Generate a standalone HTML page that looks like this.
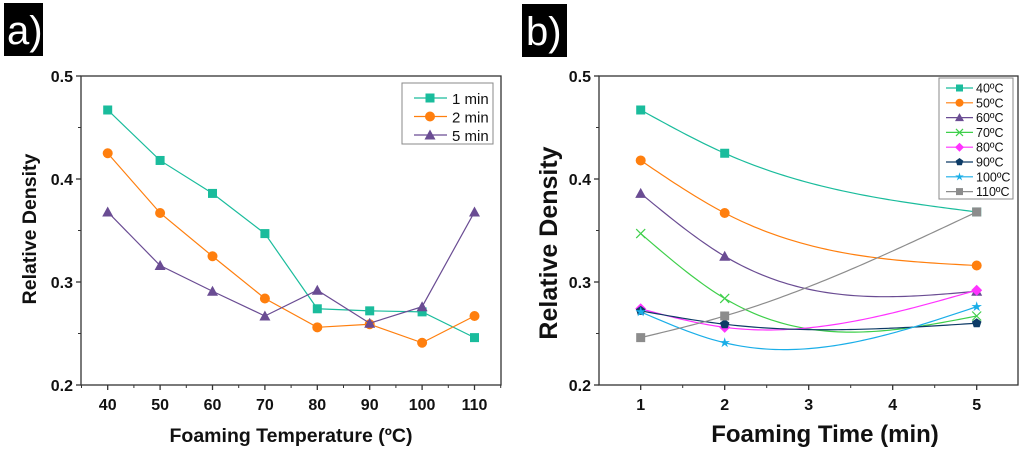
<!DOCTYPE html>
<html><head><meta charset="utf-8"><style>
body{margin:0;background:#fff;width:1024px;height:449px;overflow:hidden}
svg{display:block;font-family:"Liberation Sans",sans-serif}
</style></head><body>
<svg id="s" width="1024" height="449" viewBox="0 0 1024 449">
<g><rect x="4" y="3" width="39" height="53" fill="#000"/><text x="7" y="44" font-size="40" fill="#fff">a)</text></g>
<g><rect x="522" y="4" width="45" height="53" fill="#000"/><text x="526" y="45" font-size="40" fill="#fff">b)</text></g>
</svg>
<script>
const tempCats=[40,50,60,70,80,90,100,110];
const min1=[0.467,0.418,0.386,0.347,0.274,0.272,0.271,0.246];
const min2=[0.425,0.367,0.325,0.284,0.256,0.259,0.241,0.267];
const min5=[0.368,0.316,0.291,0.267,0.292,0.260,0.276,0.368];
const timeCats=[1,2,5];
const bNames=["40ºC","50ºC","60ºC","70ºC","80ºC","90ºC","100ºC","110ºC"];
const b40=[0.467,0.425,0.368];
const b50=[0.418,0.367,0.316];
const b60=[0.386,0.325,0.291];
const b70=[0.347,0.284,0.267];
const b80=[0.274,0.256,0.292];
const b90=[0.272,0.259,0.260];
const b100=[0.271,0.241,0.276];
const b110=[0.246,0.267,0.368];
const yTicks=[0.2,0.3,0.4,0.5];
const aXTicks=[40,50,60,70,80,90,100,110];
const bXTicks=[1,2,3,4,5];

const S=document.getElementById('s');const NS='http://www.w3.org/2000/svg';
function mk(t,a,p){const e=document.createElementNS(NS,t);for(const k in a)e.setAttribute(k,a[k]);(p||S).appendChild(e);return e;}
const yS=v=>385-(v-0.2)/0.3*309;
const axA=v=>107.7+(v-40)*5.24;
const axB=v=>640.7+(v-1)*84;

function marker(g,type,x,y,c,sz){
  sz=sz||4.5;let e;
  if(type==='sq')e=mk('rect',{x:x-sz,y:y-sz,width:2*sz,height:2*sz,fill:c},g);
  else if(type==='ci')e=mk('circle',{cx:x,cy:y,r:sz+0.5,fill:c},g);
  else if(type==='tr')e=mk('polygon',{points:`${x},${y-sz-1} ${x+sz+1},${y+sz} ${x-sz-1},${y+sz}`,fill:c},g);
  else if(type==='x')e=mk('path',{d:`M${x-sz} ${y-sz}L${x+sz} ${y+sz}M${x-sz} ${y+sz}L${x+sz} ${y-sz}`,stroke:c,'stroke-width':1.2,fill:'none'},g);
  else if(type==='di')e=mk('polygon',{points:`${x},${y-sz-1} ${x+sz+1},${y} ${x},${y+sz+1} ${x-sz-1},${y}`,fill:c},g);
  else if(type==='pe'){let p=[];for(let i=0;i<5;i++){const a=-Math.PI/2+i*2*Math.PI/5;p.push((x+(sz+0.5)*Math.cos(a))+','+(y+(sz+0.5)*Math.sin(a)));}e=mk('polygon',{points:p.join(' '),fill:c},g);}
  else if(type==='st'){let p=[];for(let i=0;i<10;i++){const a=-Math.PI/2+i*Math.PI/5;const r=i%2?sz*0.45:sz+1;p.push((x+r*Math.cos(a))+','+(y+r*Math.sin(a)));}e=mk('polygon',{points:p.join(' '),fill:c},g);}
  
  
}

function axes(x0,x1,xt,xs,minor,title,ttlSize,ttlX,ytX,ytSize,ytTitleX){
  const g=mk('g',{});
  
  
  mk('rect',{x:x0,y:76,width:x1-x0,height:309,fill:'none',stroke:'#333','stroke-width':1.3},g);
  yTicks.forEach(v=>{const y=yS(v);mk('line',{x1:x0-5,x2:x0,y1:y,y2:y,stroke:'#333','stroke-width':1.3},g);
    const t=mk('text',{x:x0-8,y:y+6,'text-anchor':'end','font-size':16,'font-weight':'bold',fill:'#111'},g);t.textContent=v.toFixed(1);
    });
  for(let v=0.25;v<0.5;v+=0.1){const y=yS(v);mk('line',{x1:x0-3,x2:x0,y1:y,y2:y,stroke:'#333'},g);}
  xt.forEach(v=>{const x=xs(v);mk('line',{x1:x,x2:x,y1:385,y2:390,stroke:'#333','stroke-width':1.3},g);
    const t=mk('text',{x:x,y:410,'text-anchor':'middle','font-size':16,'font-weight':'bold',fill:'#111'},g);t.textContent=v;
    });
  minor.forEach(v=>{const x=xs(v);mk('line',{x1:x,x2:x,y1:385,y2:388,stroke:'#333'},g);});
  const xt2=mk('text',{x:ttlX,y:442,'text-anchor':'middle','font-size':ttlSize,'font-weight':'bold',fill:'#111'},g);xt2.textContent=title;
  
  const yt=mk('text',{x:0,y:0,transform:`translate(${ytTitleX},${ytX}) rotate(-90)`,'text-anchor':'middle','font-size':ytSize,'font-weight':'bold',fill:'#111'},g);yt.textContent='Relative Density';
  
}
axes(81,501,aXTicks,axA,[35,45,55,65,75,85,95,105,115].filter(v=>axA(v)>81&&axA(v)<501),'Foaming Temperature (ºC)',19.5,291,229,19.5,36);
axes(599,1018,bXTicks,axB,[1.5,2.5,3.5,4.5,0.5,5.5].filter(v=>axB(v)>599&&axB(v)<1018),'Foaming Time (min)',24,825,243,25,557);

// panel a
const aSeries=[[min1,'#1abc9c','sq','1 min'],[min2,'#ff7f0e','ci','2 min'],[min5,'#6a4c93','tr','5 min']];
aSeries.forEach(([d,c,m,n])=>{
  const g=mk('g',{});
  
  
  mk('polyline',{points:d.map((v,i)=>axA(tempCats[i])+','+yS(v)).join(' '),fill:'none',stroke:c,'stroke-width':1.2},g);
  d.forEach((v,i)=>marker(g,m,axA(tempCats[i]),yS(v),c));
});
const la=mk('g',{});


mk('rect',{x:402,y:83,width:91,height:61,fill:'#fff',stroke:'#888','stroke-width':1},la);
aSeries.forEach(([d,c,m,n],i)=>{const y=98+i*18.5;mk('line',{x1:414,x2:447,y1:y,y2:y,stroke:c,'stroke-width':1.2},la);marker(la,m,430,y,c);
  const t=mk('text',{x:452,y:y+6,'font-size':15,fill:'#111'},la);t.textContent=n;
  });

// panel b - natural cubic spline
function spline(xs,ys){const n=xs.length-1,h=[],al=[0],l=[1],mu=[0],z=[0],c=Array(n+1).fill(0),b=[],d=[];
  for(let i=0;i<n;i++)h.push(xs[i+1]-xs[i]);
  for(let i=1;i<n;i++)al.push(3/h[i]*(ys[i+1]-ys[i])-3/h[i-1]*(ys[i]-ys[i-1]));
  for(let i=1;i<n;i++){l[i]=2*(xs[i+1]-xs[i-1])-h[i-1]*mu[i-1];mu[i]=h[i]/l[i];z[i]=(al[i]-h[i-1]*z[i-1])/l[i];}
  for(let j=n-1;j>=0;j--){c[j]=(j>0?z[j]:0)-mu[j]*c[j+1];b[j]=(ys[j+1]-ys[j])/h[j]-h[j]*(c[j+1]+2*c[j])/3;d[j]=(c[j+1]-c[j])/(3*h[j]);}
  return x=>{let j=0;while(j<n-1&&x>xs[j+1])j++;const t=x-xs[j];return ys[j]+b[j]*t+c[j]*t*t+d[j]*t*t*t;};}
const bData=[b40,b50,b60,b70,b80,b90,b100,b110];
const bCols=['#1abc9c','#ff7f0e','#6a4c93','#3ecf4a','#ff33ff','#0d3b66','#1aaee8','#8c8c8c'];
const bMarks=['sq','ci','tr','x','di','pe','st','sq'];
bData.forEach((d,k)=>{
  const g=mk('g',{});
  
  
  const f=spline(timeCats,d);let p=[];
  for(let x=1;x<=5.0001;x+=0.05)p.push(axB(x)+','+yS(f(x)));
  mk('polyline',{points:p.join(' '),fill:'none',stroke:bCols[k],'stroke-width':1.2},g);
  d.forEach((v,i)=>marker(g,bMarks[k],axB(timeCats[i]),yS(v),bCols[k]));
});
const lb=mk('g',{});


mk('rect',{x:939,y:78,width:74,height:121,fill:'#fff',stroke:'#888','stroke-width':1},lb);
bNames.forEach((n,i)=>{const y=88+i*14.8;mk('line',{x1:946,x2:973,y1:y,y2:y,stroke:bCols[i],'stroke-width':1.2},lb);marker(lb,bMarks[i],959.5,y,bCols[i],3.5);
  const t=mk('text',{x:976,y:y+4.5,'font-size':12.5,fill:'#111'},lb);t.textContent=n;
  });
</script>
</body></html>
